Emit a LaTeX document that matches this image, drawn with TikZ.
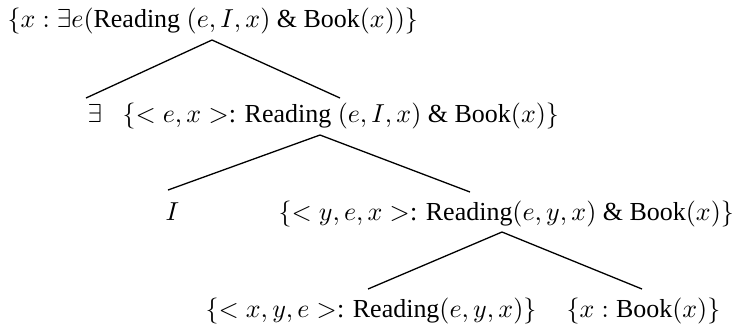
\documentclass[tikz,border=0pt]{standalone}
\usepackage{fontspec}
\setmainfont{Liberation Serif}
\newfontfamily\treefont{Liberation Serif}
\begin{document}
\begin{tikzpicture}[x=0.385pt,y=-0.385pt,
  lbl/.style={anchor=base west,inner sep=0pt,font=\treefont\fontsize{10}{12}\selectfont},
  branch/.style={line width=0.5pt}]
\useasboundingbox (0,0) rectangle (735,325);

% level 0
\node[lbl] (top) at (7,27) {$\{x:\exists e($Reading $(e,I,x)$ \& Book$(x))\}$};
% level 1
\node[lbl] (ex) at (87,122) {$\exists$};
\node[lbl] (ex2) at (122,122) {$\{<e,x>$: Reading $(e,I,x)$ \& Book$(x)\}$};
% level 2
\node[lbl] (I) at (165,220) {$I$};
\node[lbl] (rel3) at (278,220) {$\{<y,e,x>$: Reading$(e,y,x)$ \& Book$(x)\}$};
% level 3
\node[lbl] (read) at (205,317) {$\{<x,y,e>$: Reading$(e,y,x)\}$};
\node[lbl] (book) at (566,317) {$\{x:\mbox{Book}(x)\}$};

% branch points
\coordinate (a0) at (212,40);
\coordinate (l0) at (86,98);
\coordinate (r0) at (340,98);
\coordinate (a1) at (320,135);
\coordinate (l1) at (168,190);
\coordinate (r1) at (470,192);
\coordinate (a2) at (502,232);
\coordinate (l2) at (368,289);
\coordinate (r2) at (642,289);

\draw[branch] (l0) -- (a0) -- (r0);
\draw[branch] (l1) -- (a1) -- (r1);
\draw[branch] (l2) -- (a2) -- (r2);
\end{tikzpicture}
\end{document}
